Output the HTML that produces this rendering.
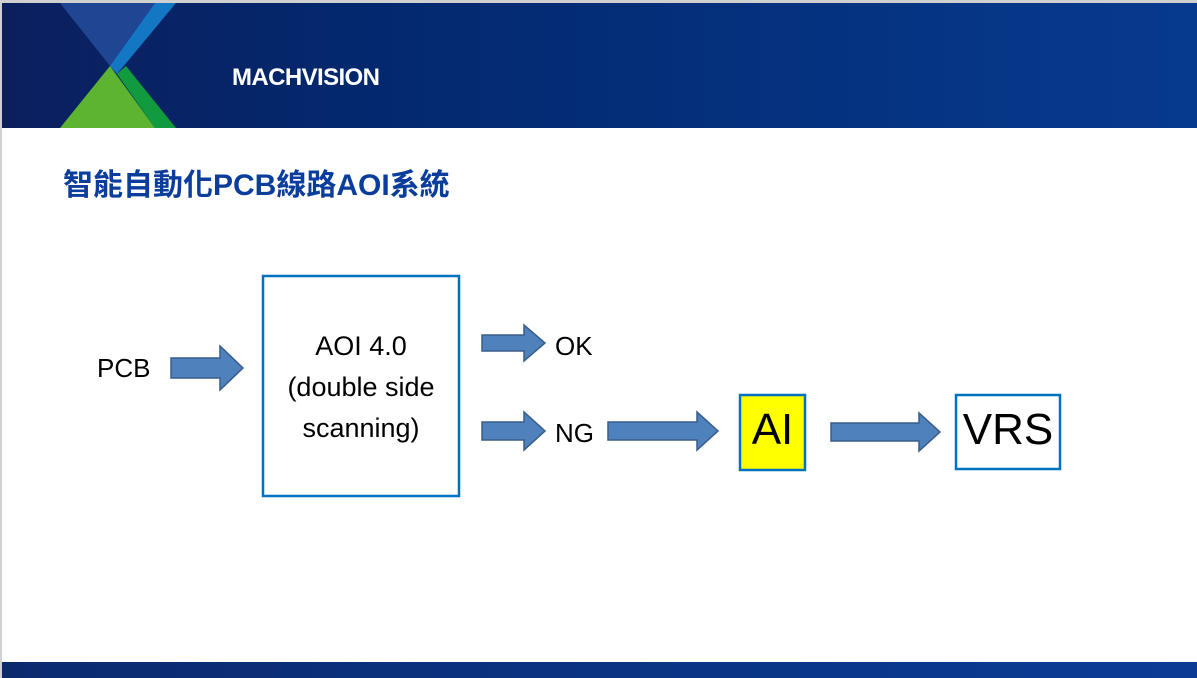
<!DOCTYPE html>
<html><head><meta charset="utf-8"><style>
body{margin:0;width:1197px;height:678px;position:relative;background:#fff;overflow:hidden;font-family:"Liberation Sans","Noto Sans CJK TC",sans-serif}
.t{position:absolute;white-space:nowrap}
</style></head><body>
<div style="position:absolute;left:0;top:0;width:1197px;height:3px;background:#d0d0d0"></div>
<div style="position:absolute;left:0;top:0;width:2px;height:678px;background:#d0d0d0"></div>
<svg style="position:absolute;left:0;top:0" width="1197" height="678">
<defs><linearGradient id="h" x1="0" x2="1"><stop offset="0" stop-color="#0b1f5e"/><stop offset="0.3" stop-color="#04286e"/><stop offset="1" stop-color="#063a8e"/></linearGradient>
<linearGradient id="b" x1="0" x2="1"><stop offset="0" stop-color="#0b2a6e"/><stop offset="1" stop-color="#0a3c96"/></linearGradient></defs>
<rect x="2" y="3" width="1195" height="125" fill="url(#h)"/>
<polygon points="60,3 155,3 110,66" fill="#1f4593"/>
<polygon points="155,3 176,3 117,74 110,66" fill="#1477c4"/>
<polygon points="60,128 155,128 110,66" fill="#5db431"/>
<polygon points="117,74 126,66 176,128 155,128" fill="#119a3e"/>
<rect x="2" y="662" width="1195" height="16" fill="url(#b)"/>
<g fill="#4f81bd" stroke="#385d8a" stroke-width="1.5">
<polygon points="171,358 220,358 220,346 243,368 220,390 220,378 171,378"/>
<polygon points="482,335 524,335 524,325 545,343 524,361 524,351 482,351"/>
<polygon points="482,422 524,422 524,412 545,431 524,450 524,440 482,440"/>
<polygon points="608,422 697,422 697,412 718,431 697,450 697,440 608,440"/>
<polygon points="831,423 919,423 919,413 940,432 919,451 919,441 831,441"/>
</g>
<rect x="263" y="276" width="196" height="220" fill="#fff" stroke="#0070c0" stroke-width="2.5"/>
<rect x="740" y="395" width="65" height="75" fill="#ffff00" stroke="#0070c0" stroke-width="2.5"/>
<rect x="956" y="395" width="104" height="74" fill="#fff" stroke="#0070c0" stroke-width="2.5"/>
</svg>
<div class="t" style="left:232px;top:64px;color:#fff;font-weight:bold;font-size:24px;letter-spacing:-0.6px">MACHVISION</div>
<div class="t" style="left:63px;top:160px;color:#0a3d9c;font-weight:bold;font-size:30px">智能自動化PCB線路AOI系統</div>
<div class="t" style="left:97px;top:353px;font-size:26px">PCB</div>
<div class="t" style="left:263px;top:326px;width:196px;text-align:center;font-size:27px;line-height:41px;white-space:normal">AOI 4.0<br>(double side<br>scanning)</div>
<div class="t" style="left:555px;top:331px;font-size:26px">OK</div>
<div class="t" style="left:555px;top:418px;font-size:26px">NG</div>
<div class="t" style="left:740px;top:405px;width:65px;text-align:center;font-size:44px">AI</div>
<div class="t" style="left:956px;top:405px;width:104px;text-align:center;font-size:44px">VRS</div>
</body></html>
